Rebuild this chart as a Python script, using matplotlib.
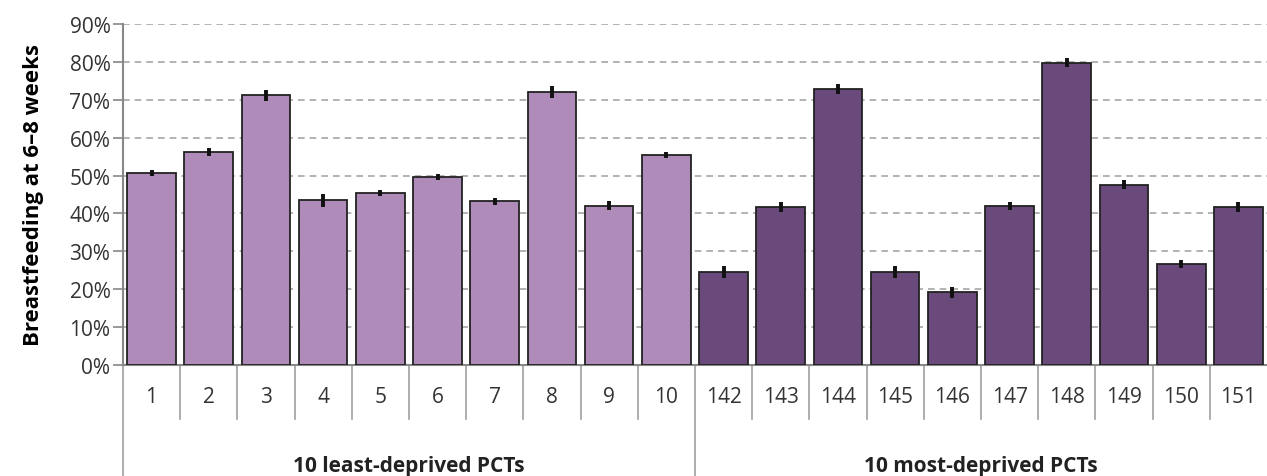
import matplotlib.pyplot as plt
import matplotlib.transforms as mtransforms
import numpy as np

plt.rcParams['font.family'] = ['Open Sans', 'DejaVu Sans']

labels = ["1", "2", "3", "4", "5", "6", "7", "8", "9", "10",
          "142", "143", "144", "145", "146", "147", "148", "149", "150", "151"]
values = [50.7, 56.2, 71.2, 43.5, 45.4, 49.6, 43.2, 72.0, 42.0, 55.4,
          24.5, 41.7, 72.8, 24.6, 19.2, 42.0, 79.8, 47.6, 26.6, 41.8]
errors = [0.8, 1.0, 1.5, 1.7, 0.8, 0.7, 1.0, 1.5, 1.2, 0.9,
          1.5, 1.2, 1.3, 1.6, 1.5, 1.1, 1.1, 1.2, 1.0, 1.3]
groups = ["10 least-deprived PCTs", "10 most-deprived PCTs"]
group_sizes = [10, 10]
group_colors = ["#AF8BBA", "#694A7B"]

fig = plt.figure(figsize=(12.67, 4.77), dpi=100)
ax = fig.add_axes([0.097, 0.2327, 0.903, 0.715])

x = np.arange(len(values))
colors = []
for c, n in zip(group_colors, group_sizes):
    colors += [c] * n

ax.bar(x, values, width=0.85, color=colors, edgecolor="#222222", linewidth=1.3, zorder=3)
ax.errorbar(x, values, yerr=errors, fmt="none", ecolor="#111111", elinewidth=2.8,
            capsize=0, zorder=4)

ax.set_xlim(-0.5, len(values) - 0.5)
ax.set_ylim(0, 90)
ax.set_yticks(np.arange(0, 91, 10))
ax.set_yticklabels([f"{v}%" for v in range(0, 91, 10)], fontsize=15, color="#333333")
ax.yaxis.grid(True, linestyle=(0, (4, 3)), color="#A6A6A6", linewidth=1.2, zorder=0)
ax.tick_params(axis="y", length=7, color="#888888", width=1.2, pad=2)
ax.set_xticks([])

for s in ["top", "right"]:
    ax.spines[s].set_visible(False)
ax.spines["left"].set_color("#888888")
ax.spines["left"].set_linewidth(1.5)
ax.spines["bottom"].set_color("#888888")
ax.spines["bottom"].set_linewidth(1.5)

ax.set_ylabel("Breastfeeding at 6–8 weeks", fontsize=16, fontweight="bold", labelpad=18)

# two-level category axis
trans = mtransforms.blended_transform_factory(ax.transData, ax.transAxes)
tick_low = -0.158
group_low = -0.33
for i, lab in enumerate(labels):
    ax.text(i, -0.091, lab, transform=trans, ha="center", va="center",
            fontsize=15, color="#333333")

bounds = np.cumsum([0] + group_sizes) - 0.5
for b in np.arange(-0.5, len(values) - 0.5):
    low = group_low if b in bounds else tick_low
    ax.plot([b, b], [0, low], transform=trans, color="#A0A0A0", linewidth=1.2,
            clip_on=False)

for g, (lo, hi) in enumerate(zip(bounds[:-1], bounds[1:])):
    ax.text((lo + hi) / 2, -0.296, groups[g], transform=trans, ha="center",
            va="center", fontsize=15, fontweight="bold", color="#222222")

fig.savefig("out.png", dpi=100)
